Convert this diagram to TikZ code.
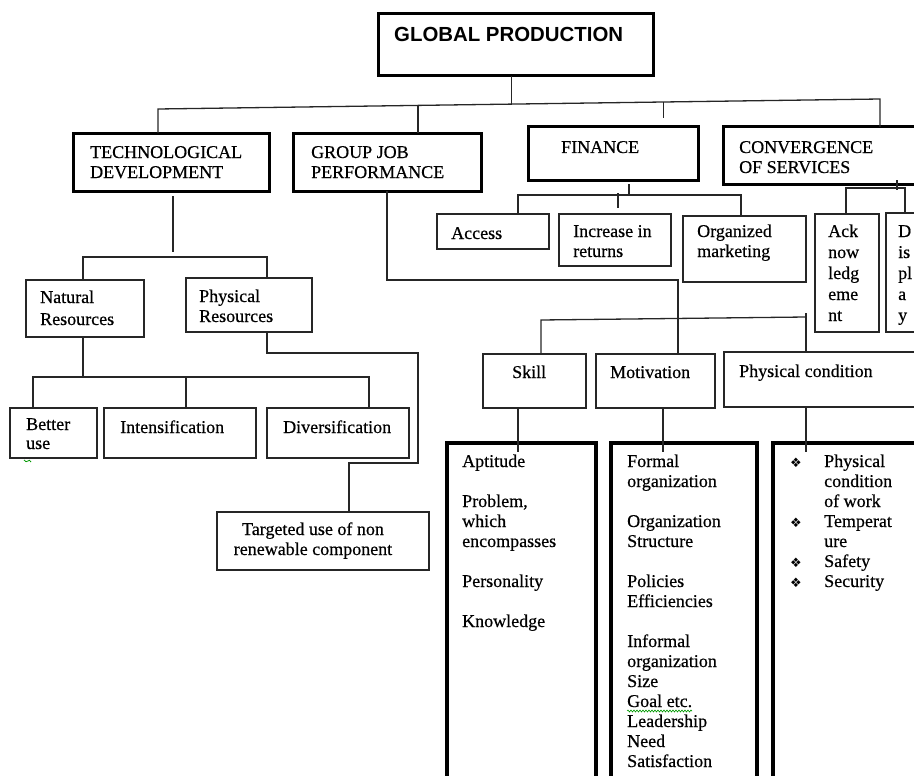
\documentclass[tikz,border=0pt]{standalone}
\usepackage{fontspec}
\setmainfont{Liberation Serif}
\newfontfamily\heavyrm[FakeBold=0.5]{Liberation Serif}
\newfontfamily\gpfont{Liberation Sans}
\newfontfamily\dej{DejaVu Sans}
\usetikzlibrary{calc,decorations.pathmorphing}
\newcommand{\BX}[6]{\node[#6, anchor=north west, minimum width={#4-#2}, minimum height={#5-#3}] (#1) at (#2,#3) {};}
\begin{document}
\begin{tikzpicture}[x=1pt,y=-1pt,
  thinbox/.style={draw=black!85, line width=1.3pt, inner sep=0pt, outer sep=0pt},
  thickbox/.style={draw=black, line width=3pt, inner sep=0pt, outer sep=0pt},
  listbox/.style={draw=black, line width=3.5pt, inner sep=0pt, outer sep=0pt},
  txt/.style={inner sep=0pt, align=left, font=\heavyrm\fontsize{18}{20}\selectfont, text=black},
  conn/.style={draw=black!85, line width=1.3pt},
  bul/.style={inner sep=0pt, anchor=base west, font=\dej\fontsize{13}{20}\selectfont},
  wavy/.style={draw=green!60!black, line width=0.6pt, decorate, decoration={snake, amplitude=1pt, segment length=3pt}}]
\useasboundingbox (0,0) rectangle (914,776);
% boxes
\BX{gp}{378}{14}{653}{76}{thickbox}
\BX{tech}{73}{133}{269}{191}{thickbox}
\BX{grp}{293}{133}{481}{191}{thickbox}
\BX{fin}{528}{127}{698}{180}{thickbox}
\BX{conv}{723}{127}{930}{184}{thickbox}
\BX{access}{437}{214}{549}{249}{thinbox}
\BX{incr}{559}{214}{671}{266}{thinbox}
\BX{org}{683}{216}{806}{282}{thinbox}
\BX{ack}{815}{214}{879}{332}{thinbox}
\BX{disp}{886}{213}{930}{332}{thinbox}
\BX{nat}{26}{280}{144}{337}{thinbox}
\BX{phys}{186}{278}{312}{332}{thinbox}
\BX{better}{10}{408}{97}{458}{thinbox}
\BX{inten}{104}{408}{256}{458}{thinbox}
\BX{divers}{267}{408}{409}{458}{thinbox}
\BX{targ}{217}{512}{429}{570}{thinbox}
\BX{skill}{483}{354}{586}{408}{thinbox}
\BX{motiv}{596}{354}{715}{408}{thinbox}
\BX{pc}{724}{352}{930}{407}{thinbox}
\BX{lA}{447}{443}{596}{800}{listbox}
\BX{lB}{611}{443}{757}{800}{listbox}
\BX{lC}{773}{443}{930}{800}{listbox}
% texts (base anchor = baseline of the last line)
\node[txt, font=\gpfont\bfseries\fontsize{20.4}{24}\selectfont, anchor=base west] (tgp) at (394,42) {GLOBAL PRODUCTION};
\node[txt, anchor=base west] (ttech) at (90,178) {TECHNOLOGICAL\\DEVELOPMENT};
\node[txt, anchor=base west] (tgrp) at (311,178) {GROUP JOB\\PERFORMANCE};
\node[txt, anchor=base west] (tfin) at (561,153) {FINANCE};
\node[txt, anchor=base west] (tconv) at (739,173) {CONVERGENCE\\OF SERVICES};
\node[txt, anchor=base west] (taccess) at (451,239) {Access};
\node[txt, anchor=base west] (tincr) at (573,257) {Increase in\\returns};
\node[txt, anchor=base west] (torg) at (697,257) {Organized\\marketing};
\node[txt, font=\heavyrm\fontsize{18}{21}\selectfont, anchor=base west] (tack) at (828,321) {Ack\\now\\ledg\\eme\\nt};
\node[txt, font=\heavyrm\fontsize{18}{21}\selectfont, anchor=base west] (tdisp) at (898,321) {D\\is\\pl\\a\\y};
\node[txt, font=\heavyrm\fontsize{18}{22}\selectfont, anchor=base west] (tnat) at (40,325) {Natural\\Resources};
\node[txt, anchor=base west] (tphys) at (199,322) {Physical\\Resources};
\node[txt, font=\heavyrm\fontsize{18}{19}\selectfont, anchor=base west] (tbetter) at (26,449) {Better\\use};
\node[txt, anchor=base west] (tinten) at (120,433) {Intensification};
\node[txt, anchor=base west] (tdivers) at (283,433) {Diversification};
\node[txt, align=center, anchor=base] (ttarg) at (313,555) {Targeted use of non\\renewable component};
\node[txt, anchor=base west] (tskill) at (512,378) {Skill};
\node[txt, anchor=base west] (tmotiv) at (610,378) {Motivation};
\node[txt, anchor=base west] (tpc) at (739,377) {Physical condition};
\node[txt, anchor=base west] (tlA) at (462,627) {Aptitude\\[20pt]Problem,\\which\\encompasses\\[20pt]Personality\\[20pt]Knowledge};
\node[txt, anchor=base west] (tlB) at (627,767) {Formal\\organization\\[20pt]Organization\\Structure\\[20pt]Policies\\Efficiencies\\[20pt]Informal\\organization\\Size\\Goal etc.\\Leadership\\Need\\Satisfaction};
\node[txt, anchor=base west] (tlC) at (824,587) {Physical\\condition\\of work\\Temperat\\ure\\Safety\\Security};
\node[bul] (b1) at (790,467) {❖};
\node[bul] (b2) at (790,527) {❖};
\node[bul] (b3) at (790,567) {❖};
\node[bul] (b4) at (790,587) {❖};
\draw[wavy] (627,711) -- (692,711);
\draw[draw=green!60!black, line width=0.8pt] (24,460) .. controls (27,465) and (29,457) .. (31,462);
% connectors
\coordinate (mL) at (158,109); \coordinate (mR) at (880,99);
\draw[conn] (tech.north -| mL) -- (mL) -- (mR) -- (mR |- conv.north);
\coordinate (jg) at ($(mL)!0.49!(mR)$);
\draw[conn] (gp.south -| jg) -- (jg);
\coordinate (jgr) at ($(mL)!0.36!(mR)$);
\draw[conn] (jgr) -- (jgr |- grp.north);
\coordinate (jf) at ($(mL)!0.70!(mR)$);
\draw[conn] (jf) -- ($(jf |- fin.north)+(0,-9)$);
\coordinate (tA) at (173,196); \coordinate (tB) at (173,252);
\draw[conn] ($(tech.south -| tA)+(0,5)$) -- (tB);
\coordinate (tL) at (83,257); \coordinate (tR) at (267,257);
\draw[conn] (nat.north -| tL) -- (tL) -- (tR) -- (tR |- phys.north);
\coordinate (nB) at (83,377);
\draw[conn] (nat.south -| nB) -- (nB);
\coordinate (nL) at (33,377); \coordinate (nR) at (369,377); \coordinate (nM) at (186,377);
\draw[conn] (better.north -| nL) -- (nL) -- (nR) -- (nR |- divers.north);
\draw[conn] (nM) -- (nM |- inten.north);
\coordinate (p1) at (267,353); \coordinate (p2) at (418,353); \coordinate (p3) at (418,463); \coordinate (p4) at (349,463);
\draw[conn] (phys.south -| p1) -- (p1) -- (p2) -- (p3) -- (p4) -- (p4 |- targ.north);
\coordinate (g1) at (387,280); \coordinate (g2) at (678,280);
\draw[conn] (grp.south -| g1) -- (g1) -- (g2) -- (g2 |- motiv.north);
\coordinate (f0) at (629,195); \coordinate (fL) at (518,195); \coordinate (fR) at (741,195); \coordinate (fM) at (618,195);
\draw[conn] ($(fin.south -| f0)+(0,4)$) -- (f0);
\draw[conn] (access.north -| fL) -- (fL) -- (fR) -- (fR |- org.north);
\draw[conn] ($(fM)+(0,-2)$) -- ($(incr.north -| fM)+(0,-6)$);
\coordinate (c0) at (897,188); \coordinate (cL) at (846,188); \coordinate (cR) at (905,188);
\draw[conn] ($(conv.south -| c0)+(0,-4)$) -- ($(c0)+(0,2)$);
\draw[conn] (ack.north -| cL) -- (cL) -- (cR) -- (cR |- disp.north);
\coordinate (sL) at (541,320); \coordinate (sR) at (806,317);
\draw[conn] (skill.north -| sL) -- (sL) -- (sR);
\draw[conn] ($(sR)+(0,-4)$) -- (sR |- pc.north);
\coordinate (d1) at (518,452); \coordinate (d2) at (663,452); \coordinate (d3) at (806,452);
\draw[conn] (skill.south -| d1) -- (d1);
\draw[conn] (motiv.south -| d2) -- (d2);
\draw[conn] (pc.south -| d3) -- (d3);
\end{tikzpicture}
\end{document}
